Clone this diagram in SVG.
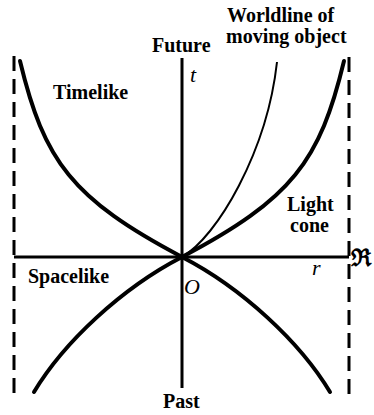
<svg xmlns="http://www.w3.org/2000/svg" width="374" height="415" viewBox="0 0 374 415">
<style>
.lbl{font-family:"Liberation Serif","Times New Roman",serif;font-weight:bold;font-size:20px;fill:#000}
.var{font-family:"Liberation Serif","Times New Roman",serif;font-style:italic;font-size:22px;fill:#000}
.axis{stroke:#000;stroke-width:3;fill:none}
.dash{stroke:#000;stroke-width:3;fill:none;stroke-dasharray:15 8}
.cone{stroke:#000;stroke-width:4;fill:none;stroke-linecap:round}
.world{stroke:#000;stroke-width:2;fill:none}
</style>
<rect width="374" height="415" fill="#fff"/>
<g id="connectors">
<line class="dash" x1="14" y1="56" x2="14" y2="394"/>
<line class="dash" x1="349" y1="57" x2="349" y2="394"/>
<line class="axis" x1="182" y1="58" x2="182" y2="388"/>
<line class="axis" x1="14" y1="257" x2="349" y2="257" stroke-width="2.5"/>
<path class="cone" d="M182,257 C72,199 44,161 20,61"/>
<path class="cone" d="M182,257 C292,199 320,161 344,61"/>
<path class="cone" d="M182,257 C122,288 64,342 34,392"/>
<path class="cone" d="M182,257 C242,288 300,342 330,392"/>
<path class="world" d="M182,257 C217,237 267,152 277,62"/>
</g>
<g id="future"><text class="lbl" x="152" y="52">Future</text></g>
<g id="worldline"><text class="lbl" x="227" y="22">Worldline of</text><text class="lbl" x="226" y="43">moving object</text></g>
<g id="timelike"><text class="lbl" x="53" y="99">Timelike</text></g>
<g id="lightcone"><text class="lbl" x="287" y="211">Light</text><text class="lbl" x="290" y="232">cone</text></g>
<g id="spacelike"><text class="lbl" x="28" y="283">Spacelike</text></g>
<g id="past"><text class="lbl" x="163" y="408">Past</text></g>
<g id="t-label"><text class="var" x="190" y="82" font-size="24">t</text></g>
<g id="r-label"><text class="var" x="312" y="275">r</text></g>
<g id="origin"><text class="var" x="184" y="294">O</text></g>
<g id="real-label"><text x="351" y="266" font-family="DejaVu Serif,serif" font-weight="bold" font-size="24">ℜ</text></g>
</svg>
